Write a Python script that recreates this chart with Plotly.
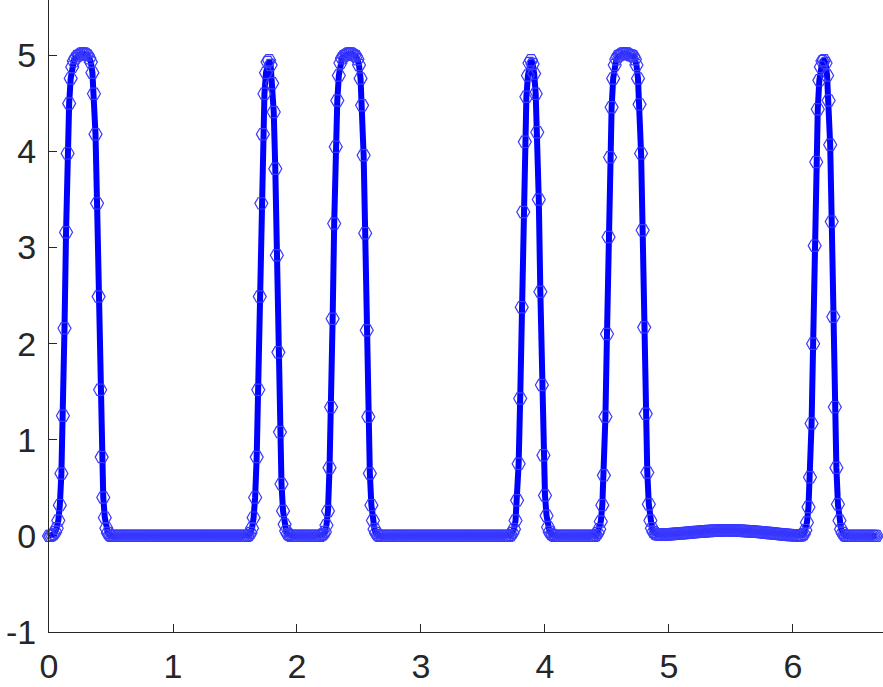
import plotly.graph_objects as go

X_START = 0.0
X_STEP = 0.0125

# u(x), region by region
u_rise1 = [0.00, 0.00, 0.01, 0.02, 0.04, 0.08, 0.16, 0.32, 0.65, 1.25,
           2.16, 3.16, 3.98, 4.50, 4.76, 4.88, 4.94, 4.97, 4.99, 5.00,
           5.01, 5.02, 5.02, 5.02, 5.01, 5.00, 4.97, 4.93, 4.82, 4.60,
           4.18, 3.46, 2.49, 1.52, 0.82, 0.40, 0.19, 0.08, 0.03, 0.01]
u_flat1 = [0, 0, 0, 0, 0, 0, 0, 0, 0, 0,
           0, 0, 0, 0, 0, 0, 0, 0, 0, 0,
           0, 0, 0, 0, 0, 0, 0, 0, 0, 0,
           0, 0, 0, 0, 0, 0, 0, 0, 0, 0,
           0, 0, 0, 0, 0, 0, 0, 0, 0, 0,
           0, 0, 0, 0, 0, 0, 0, 0, 0, 0,
           0, 0, 0, 0, 0, 0, 0, 0, 0, 0,
           0, 0, 0, 0, 0, 0, 0, 0, 0, 0,
           0, 0, 0, 0, 0, 0, 0, 0, 0]
u_peak2 = [0.01, 0.03, 0.08, 0.19, 0.40, 0.82, 1.52, 2.49, 3.46, 4.18,
           4.60, 4.82, 4.93, 4.95, 4.90, 4.71, 4.41, 3.82, 2.92, 1.91,
           1.08, 0.54, 0.26, 0.12, 0.05, 0.02, 0.01]
u_flat2 = [0, 0, 0, 0, 0, 0, 0, 0, 0, 0,
           0, 0, 0, 0, 0, 0, 0, 0, 0, 0]
u_peak3 = [0.01, 0.02, 0.04, 0.11, 0.26, 0.71, 1.34, 2.26, 3.25, 4.05,
           4.53, 4.79, 4.92, 4.97, 4.99, 5.00, 5.01, 5.02, 5.02, 5.02,
           5.01, 5.00, 4.99, 4.96, 4.90, 4.76, 4.48, 3.96, 3.15, 2.14,
           1.24, 0.65, 0.32, 0.16, 0.07, 0.03, 0.01]
u_flat3 = [0, 0, 0, 0, 0, 0, 0, 0, 0, 0,
           0, 0, 0, 0, 0, 0, 0, 0, 0, 0,
           0, 0, 0, 0, 0, 0, 0, 0, 0, 0,
           0, 0, 0, 0, 0, 0, 0, 0, 0, 0,
           0, 0, 0, 0, 0, 0, 0, 0, 0, 0,
           0, 0, 0, 0, 0, 0, 0, 0, 0, 0,
           0, 0, 0, 0, 0, 0, 0, 0, 0, 0,
           0, 0, 0, 0, 0, 0, 0, 0, 0, 0,
           0, 0, 0, 0, 0]
u_peak4 = [0.01, 0.03, 0.07, 0.16, 0.37, 0.75, 1.43, 2.38, 3.37, 4.10,
           4.57, 4.79, 4.92, 4.95, 4.91, 4.81, 4.60, 4.20, 3.50, 2.54,
           1.57, 0.84, 0.42, 0.21, 0.09, 0.04, 0.02, 0.01]
u_flat4 = [0, 0, 0, 0, 0, 0, 0, 0, 0, 0,
           0, 0, 0, 0, 0, 0, 0, 0, 0, 0,
           0, 0, 0, 0, 0, 0, 0]
u_peak5 = [0.01, 0.03, 0.07, 0.15, 0.32, 0.63, 1.24, 2.10, 3.11, 3.94,
           4.46, 4.76, 4.90, 4.96, 4.99, 5.00, 5.01, 5.02, 5.02, 5.02,
           5.02, 5.01, 5.00, 5.00, 4.99, 4.96, 4.90, 4.76, 4.49, 3.98,
           3.18, 2.17, 1.27, 0.66, 0.33, 0.16, 0.08, 0.04]
u_hump = [0.025, 0.018, 0.014, 0.012, 0.012, 0.013, 0.014, 0.015, 0.016, 0.017,
          0.018, 0.019, 0.020, 0.022, 0.023, 0.024, 0.026, 0.027, 0.028, 0.030,
          0.031, 0.033, 0.034, 0.035, 0.037, 0.038, 0.040, 0.041, 0.042, 0.044,
          0.045, 0.046, 0.047, 0.049, 0.050, 0.051, 0.052, 0.053, 0.054, 0.055,
          0.055, 0.056, 0.057, 0.057, 0.058, 0.058, 0.058, 0.058, 0.058, 0.058,
          0.057, 0.057, 0.056, 0.056, 0.055, 0.054, 0.053, 0.052, 0.051, 0.050,
          0.049, 0.048, 0.047, 0.046, 0.044, 0.043, 0.042, 0.040, 0.039, 0.037,
          0.036, 0.034, 0.033, 0.031, 0.030, 0.028, 0.026, 0.025, 0.023, 0.021,
          0.020, 0.018, 0.016, 0.015, 0.013, 0.012, 0.010, 0.009, 0.008, 0.007,
          0.006, 0.005, 0.004, 0.004, 0.005]
u_peak6 = [0.01, 0.02, 0.06, 0.14, 0.30, 0.61, 1.17, 2.00, 3.02, 3.89,
           4.44, 4.74, 4.88, 4.94, 4.95, 4.92, 4.79, 4.53, 4.07, 3.27,
           2.28, 1.34, 0.71, 0.33, 0.16, 0.07, 0.03, 0.01]
u_tail = [0, 0, 0, 0, 0, 0, 0, 0, 0, 0,
          0, 0, 0, 0, 0, 0, 0, 0, 0, 0,
          0]

segments = [u_rise1, u_flat1, u_peak2, u_flat2, u_peak3, u_flat3,
            u_peak4, u_flat4, u_peak5, u_hump, u_peak6, u_tail]
seg_len = [len(s) for s in segments]
assert seg_len == [40, 89, 27, 20, 37, 85, 28, 27, 38, 95, 28, 21], seg_len
u = [v for s in segments for v in s]

x_ticks = [0, 1, 2, 3, 4, 5, 6]
y_ticks = [-1, 0, 1, 2, 3, 4, 5]
y_tick_text = ["-1", "0", "1", "2", "3", "4", "5"]

AXIS_COLOR = "#262626"
FONT = dict(family="Liberation Sans, Arial, sans-serif", size=34, color=AXIS_COLOR)

fig = go.Figure()
fig.add_trace(go.Scatter(
    x0=X_START, dx=X_STEP, y=u, mode="lines",
    line=dict(color="#0000ff", width=6),
    showlegend=False, hoverinfo="skip",
))
fig.add_trace(go.Scatter(
    x0=X_START, dx=X_STEP, y=u, mode="markers",
    marker=dict(symbol="hexagon2-open", size=13, color="#3a3aff",
                line=dict(width=1.2, color="#3a3aff")),
    showlegend=False, cliponaxis=False,
))

fig.update_layout(
    width=883, height=687,
    margin=dict(l=49, r=0, t=0, b=55, pad=0),
    paper_bgcolor="white", plot_bgcolor="white",
    font=FONT,
    xaxis=dict(
        range=[0, 6.726], tickmode="array", tickvals=x_ticks,
        ticks="inside", ticklen=8, tickwidth=1, tickcolor=AXIS_COLOR,
        showline=True, linecolor=AXIS_COLOR, linewidth=1,
        showgrid=False, zeroline=False, tickfont=FONT,
        automargin=False, ticklabelstandoff=4,
    ),
    yaxis=dict(
        range=[-1, 5.576], tickmode="array", tickvals=y_ticks, ticktext=y_tick_text,
        ticks="inside", ticklen=8, tickwidth=1, tickcolor=AXIS_COLOR,
        showline=True, linecolor=AXIS_COLOR, linewidth=1,
        showgrid=False, zeroline=False, tickfont=FONT,
        automargin=False, ticklabelstandoff=5,
    ),
)

# page body has an 8px default margin; drop it so the figure sits at the corner
fig.write_html("out.html", config={"displayModeBar": False},
               post_script="document.body.style.margin='0';")
